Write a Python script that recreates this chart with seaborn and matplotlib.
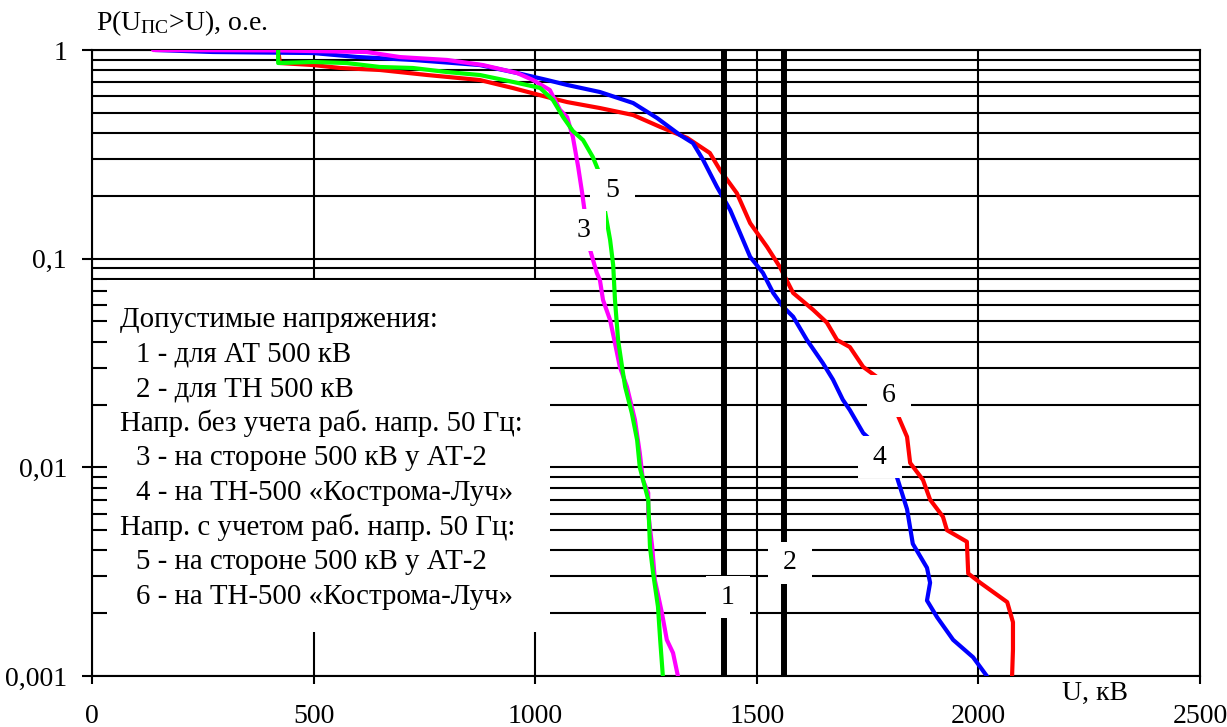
import numpy as np
import pandas as pd
import matplotlib
matplotlib.use("Agg")
import matplotlib.pyplot as plt
import seaborn as sns
from matplotlib.patches import Rectangle
from matplotlib.ticker import FixedLocator, FixedFormatter, LogLocator, NullFormatter

# ---------------- data ----------------
# curve 3 (magenta): без учета 50 Гц, сторона 500 кВ у АТ-2
u3 = [138, 424, 620, 695, 801, 882, 959, 995, 1033, 1056, 1072, 1085, 1097, 1106, 1112,
      1124, 1139, 1146, 1153, 1169, 1180, 1191, 1207, 1225, 1236, 1243, 1255, 1255, 1264,
      1270, 1286, 1297, 1311, 1322]
p3 = [1.0, 0.995, 0.978, 0.925, 0.896, 0.847, 0.776, 0.718, 0.643, 0.516, 0.477, 0.383, 0.275,
      0.206, 0.166, 0.110, 0.0854, 0.079, 0.0634, 0.0508, 0.0394, 0.0303, 0.0243, 0.0169,
      0.0117, 0.0087, 0.00754, 0.00604, 0.00415, 0.00288, 0.0020, 0.00149, 0.00129, 0.001]

# curve 4 (blue): без учета 50 Гц, ТН-500 «Кострома-Луч»
u4 = [142, 273, 499, 598, 724, 875, 959, 1027, 1072, 1146, 1221, 1275, 1327, 1356, 1379, 1410,
      1440, 1462, 1485, 1514, 1537, 1559, 1582, 1613, 1649, 1672, 1694, 1710, 1740, 1751,
      1816, 1839, 1852, 1884, 1891, 1884, 1907, 1943, 1988, 2019]
p4 = [1.0, 0.978, 0.967, 0.926, 0.896, 0.847, 0.776, 0.718, 0.680, 0.629, 0.557, 0.472, 0.391,
      0.358, 0.297, 0.221, 0.171, 0.133, 0.102, 0.0854, 0.0685, 0.0589, 0.0527, 0.0408,
      0.0316, 0.0263, 0.0211, 0.0188, 0.0146, 0.0139, 0.0090, 0.0063, 0.0043, 0.0033,
      0.0028, 0.0023, 0.00191, 0.00149, 0.00123, 0.001]

# curve 5 (green): с учетом 50 Гц, сторона 500 кВ у АТ-2
u5 = [420, 420, 499, 575, 650, 724, 801, 875, 950, 1011, 1040, 1063, 1085, 1108, 1130, 1142,
      1157, 1169, 1176, 1180, 1187, 1196, 1203, 1218, 1230, 1236, 1255, 1259, 1266, 1277,
      1282, 1288]
p5 = [1.0, 0.866, 0.876, 0.866, 0.829, 0.820, 0.784, 0.759, 0.703, 0.658, 0.576, 0.477, 0.409,
      0.370, 0.307, 0.266, 0.171, 0.123, 0.093, 0.0634, 0.0408, 0.0303, 0.0243, 0.0182,
      0.0135, 0.0100, 0.0070, 0.00415, 0.00312, 0.00215, 0.00149, 0.001]

# curve 6 (red): с учетом 50 Гц, ТН-500 «Кострома-Луч»
u6 = [420, 424, 499, 560, 650, 756, 875, 950, 1027, 1072, 1146, 1221, 1282, 1343, 1394, 1417,
      1455, 1485, 1523, 1552, 1582, 1627, 1658, 1681, 1710, 1740, 1771, 1816, 1839, 1846,
      1875, 1891, 1920, 1929, 1974, 1977, 2004, 2065, 2078, 2078, 2076]
p6 = [1.0, 0.866, 0.847, 0.820, 0.802, 0.759, 0.718, 0.657, 0.595, 0.563, 0.527, 0.488, 0.428,
      0.379, 0.321, 0.266, 0.206, 0.148, 0.114, 0.0913, 0.0685, 0.0569, 0.0494, 0.0408,
      0.0377, 0.0303, 0.0271, 0.0182, 0.0140, 0.0105, 0.0087, 0.0070, 0.0058, 0.0050,
      0.0044, 0.0031, 0.0028, 0.00226, 0.00181, 0.00134, 0.001]

# permissible voltage levels (1 - АТ 500 кВ, 2 - ТН 500 кВ)
limit_u = [1426, 1561]
limit_names = ["1", "2"]

curve_names = ["6", "4", "3", "5"]
curve_colors = {"3": "#FF00FF", "4": "#0000FF", "5": "#00FF00", "6": "#FF0000"}

x_ticks = [0, 500, 1000, 1500, 2000, 2500]
x_tick_labels = ["0", "500", "1000", "1500", "2000", "2500"]
y_ticks = [0.001, 0.01, 0.1, 1]
y_tick_labels = ["0,001", "0,01", "0,1", "1"]

legend_headers = ["Допустимые напряжения:", "Напр. без учета раб. напр. 50 Гц:",
                  "Напр. с учетом раб. напр. 50 Гц:"]
legend_items = ["1 - для АТ 500 кВ", "2 - для ТН 500 кВ",
                "3 - на стороне 500 кВ у АТ-2", "4 - на ТН-500 «Кострома-Луч»",
                "5 - на стороне 500 кВ у АТ-2", "6 - на ТН-500 «Кострома-Луч»"]

# ---------------- style ----------------
sns.set_theme(style="white")
plt.rcParams["font.family"] = ["Liberation Serif", "DejaVu Serif"]
plt.rcParams["mathtext.fontset"] = "custom"
plt.rcParams["mathtext.rm"] = "Liberation Serif"
plt.rcParams["mathtext.it"] = "Liberation Serif:italic"
FS = 20
FS_LEG = 20.8

W, H = 1227, 727
fig = plt.figure(figsize=(W / 100, H / 100), dpi=100)
L, R, T, B = 92, 1200, 50, 676
ax = fig.add_axes([L / W, 1 - B / H, (R - L) / W, (B - T) / H])
ax.set_yscale("log")
ax.set_xlim(0, 2500)
ax.set_ylim(0.001, 1)

frames = []
for name, u, p in [("6", u6, p6), ("4", u4, p4), ("3", u3, p3), ("5", u5, p5)]:
    frames.append(pd.DataFrame({"U": u, "P": p, "curve": name}))
df = pd.concat(frames, ignore_index=True)

sns.lineplot(data=df, x="U", y="P", hue="curve", hue_order=curve_names,
             palette=curve_colors, sort=False, estimator=None, legend=False,
             lw=3.0, ax=ax, zorder=3)

for u in limit_u:
    ax.axvline(u, color="black", lw=4.3, zorder=3)

# grid
ax.set_axisbelow(True)
ax.xaxis.set_major_locator(FixedLocator(x_ticks))
ax.xaxis.set_major_formatter(FixedFormatter(x_tick_labels))
ax.yaxis.set_major_locator(FixedLocator(y_ticks))
ax.yaxis.set_major_formatter(FixedFormatter(y_tick_labels))
ax.yaxis.set_minor_locator(LogLocator(base=10, subs=np.arange(2, 10)))
ax.yaxis.set_minor_formatter(NullFormatter())
ax.grid(True, which="major", axis="x", color="black", lw=1.5)
ax.grid(True, which="both", axis="y", color="black", lw=1.5)
for s in ax.spines.values():
    s.set_color("black")
    s.set_linewidth(1.5)

ax.tick_params(axis="y", which="major", direction="out", length=7, width=1.5,
               colors="black", labelsize=FS, pad=11, left=True)
ax.tick_params(axis="x", which="major", direction="out", length=6, width=1.5,
               colors="black", labelsize=FS, pad=14, bottom=True)
ax.tick_params(axis="y", which="minor", length=0)
ax.set_xlabel("")
ax.set_ylabel("")

# legend box (white) with text
ax.add_patch(Rectangle(((107 - L) / (R - L), (B - 632) / (B - T)),
                       (550 - 107) / (R - L), (632 - 280) / (B - T),
                       transform=ax.transAxes, facecolor="white", edgecolor="none",
                       zorder=1.5))
rows = [(legend_headers[0], 0), (legend_items[0], 1), (legend_items[1], 1),
        (legend_headers[1], 0), (legend_items[2], 1), (legend_items[3], 1),
        (legend_headers[2], 0), (legend_items[4], 1), (legend_items[5], 1)]
y0, dy = 318, 34.6
for i, (txt, ind) in enumerate(rows):
    xp = 120 if ind == 0 else 136
    yp = y0 + i * dy + 9
    ax.text((xp - L) / (R - L), (B - yp) / (B - T), txt, transform=ax.transAxes,
            fontsize=FS_LEG, ha="left", va="baseline", color="black", zorder=4)

# curve and limit labels with white background
lab_pos = {"5": (1175, 0.213), "3": (1110, 0.137), "6": (1798, 0.022),
           "4": (1778, 0.0112), "1": (1435, 0.00239), "2": (1575, 0.00348)}
for k, (xu, yp) in lab_pos.items():
    ax.text(xu, yp, " " + k + " ", fontsize=FS, ha="center", va="center", color="black",
            zorder=6, bbox=dict(boxstyle="square,pad=0.3", fc="white", ec="none"))

# axis titles
fig.text(96 / W, 1 - 23 / H, r"P(U$_{\mathrm{ПС}}$>U), о.е.", fontsize=FS,
         ha="left", va="center", color="black")
fig.text(1095 / W, 1 - 693 / H, "U, кВ", fontsize=FS, ha="center", va="center",
         color="black")

fig.savefig("out.png", dpi=100)
